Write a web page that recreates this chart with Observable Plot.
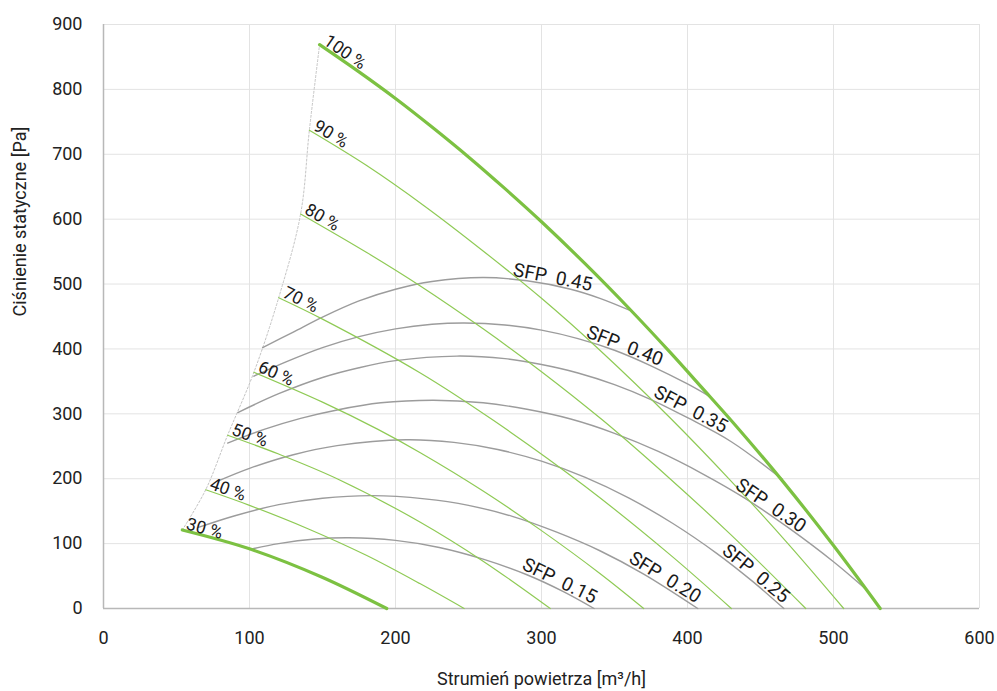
<!DOCTYPE html>
<html><head><meta charset="utf-8">
<script src="https://cdn.jsdelivr.net/npm/d3@7"></script>
<script src="https://cdn.jsdelivr.net/npm/@observablehq/plot@0.6"></script>
<style>
html,body{margin:0;padding:0;background:#fff;}
#chart svg text{white-space:pre;}
</style></head><body><div id="chart"></div>
<script>
// ---- data ----
const xTicks = [0, 100, 200, 300, 400, 500, 600];
const yTicks = [0, 100, 200, 300, 400, 500, 600, 700, 800, 900];

const speedNames = ["30 %", "40 %", "50 %", "60 %", "70 %", "80 %", "90 %", "100 %"];
const speed30 = [[54,121],[100,92],[149,49],[194,0]];
const speed40 = [[70,183],[100,159],[140,123],[180,82],[217,38],[247,0]];
const speed50 = [[85,267],[120,238],[160,200],[217,133],[260,73],[306,0]];
const speed60 = [[103,364],[150,318],[188,276],[217,240],[260,181],[300,120],[340,54],[370,0]];
const speed70 = [[120,479],[150,446],[217,363],[267,290],[330,188],[388,83],[430,0]];
const speed80 = [[135,608],[180,549],[217,497],[260,431],[300,365],[342,290],[388,200],[430,113],[481,0]];
const speed90 = [[141,737],[180,683],[220,620],[260,551],[300,478],[340,398],[388,294],[430,196],[470,97],[507,0]];
const speed100 = [[148,869],[175,827],[200,786],[225,742],[251,694],[275,647],[300,596],[330,531],[361,460],[388,395],[410,340],[431,287],[466,194],[500,97],[532,0]];

const sfpNames = ["SFP  0.15", "SFP  0.20", "SFP  0.25", "SFP  0.30", "SFP  0.35", "SFP  0.40", "SFP  0.45"];
const sfp15 = [[100,91],[120,100],[145,107],[168,109],[200,105],[230,94],[260,76],[290,52],[315,26],[336,0]];
const sfp20 = [[65,125],[90,143],[120,160],[150,170],[184,174],[220,169],[250,159],[280,142],[310,118],[340,89],[370,53],[407,0]];
const sfp25 = [[79,197],[100,216],[130,237],[160,251],[207,260],[240,256],[270,245],[300,227],[330,202],[360,170],[390,131],[420,85],[445,41],[466,0]];
const sfp30 = [[85,255],[110,276],[135,293],[160,306],[190,317],[226,321],[260,317],[290,307],[320,292],[350,270],[380,242],[410,208],[440,169],[470,123],[500,72],[521,32]];
const sfp35 = [[92,302],[120,331],[150,356],[175,371],[200,382],[242,389],[275,385],[300,376],[325,363],[350,345],[375,322],[400,294],[430,257],[465,199]];
const sfp40 = [[103,358],[125,380],[150,402],[175,419],[200,431],[225,438],[247,440],[275,437],[300,429],[325,416],[350,398],[375,374],[400,346],[415,327]];
const sfp45 = [[109,402],[130,426],[150,449],[175,474],[200,492],[225,504],[260,510],[290,505],[320,492],[340,478],[361,459]];
const sfpLabelX = [286, 359, 423, 432, 376, 330, 280];

// ---- layout ----
const W = 997, H = 691, mL = 103, mR = 18, mT = 24, mB = 83;
const kx = (W - mL - mR) / 600, ky = (H - mT - mB) / 900;
const FONT = "Roboto, 'Open Sans', sans-serif";

const speeds = [speed30, speed40, speed50, speed60, speed70, speed80, speed90, speed100];
const sfps = [sfp15, sfp20, sfp25, sfp30, sfp35, sfp40, sfp45];

const speedRows = speeds.flatMap((s, i) => s.map(([q, p]) => ({q, p, name: speedNames[i], thick: i === 0 || i === speeds.length - 1})));
const sfpRows = sfps.flatMap((s, i) => s.map(([q, p]) => ({q, p, name: sfpNames[i]})));
const boundary = speeds.map(s => ({q: s[0][0], p: s[0][1]}));

const angle = (dq, dp) => Math.atan2(-dp * ky, dq * kx) * 180 / Math.PI;
const interp = (s, q) => {
  for (let i = 1; i < s.length; i++) {
    if (q <= s[i][0]) {
      const [q0, p0] = s[i - 1], [q1, p1] = s[i];
      return p0 + (p1 - p0) * (q - q0) / (q1 - q0);
    }
  }
  return s[s.length - 1][1];
};
const speedLabels = speeds.map((s, i) => ({q: s[0][0], p: s[0][1], text: speedNames[i],
  rot: angle(s[1][0] - s[0][0], s[1][1] - s[0][1])}));
const sfpLabels = sfps.map((s, i) => {
  const q = sfpLabelX[i], q2 = Math.min(q + 50, s[s.length - 1][0]);
  const p = interp(s, q), p2 = interp(s, q2);
  return {q, p, text: sfpNames[i], rot: angle(q2 - q, p2 - p)};
});

const chart = Plot.plot({
  width: W, height: H,
  marginLeft: mL, marginRight: mR, marginTop: mT, marginBottom: mB,
  style: {fontFamily: FONT, fontSize: "18px", color: "#222", background: "#fff"},
  x: {domain: [0, 600], ticks: xTicks, tickSize: 0, tickPadding: 23, label: null},
  y: {domain: [0, 900], ticks: yTicks, tickSize: 0, tickPadding: 21, label: null},
  marks: [
    Plot.ruleX(xTicks.slice(1), {stroke: "#e3e3e3", strokeWidth: 1}),
    Plot.ruleY(yTicks.slice(1), {stroke: "#e3e3e3", strokeWidth: 1}),
    Plot.ruleX([0], {stroke: "#b8b8b8", strokeWidth: 1.5}),
    Plot.ruleY([0], {stroke: "#b8b8b8", strokeWidth: 1.5}),
    Plot.line(boundary, {x: "q", y: "p", curve: "catmull-rom", stroke: "#c4c4c4", strokeWidth: 1, strokeDasharray: "2,2"}),
    Plot.line(sfpRows, {x: "q", y: "p", z: "name", curve: "catmull-rom", stroke: "#9c9c9c", strokeWidth: 1.4}),
    Plot.line(speedRows.filter(d => !d.thick), {x: "q", y: "p", z: "name", curve: "catmull-rom", stroke: "#8fca55", strokeWidth: 1.2}),
    Plot.line(speedRows.filter(d => d.thick), {x: "q", y: "p", z: "name", curve: "catmull-rom", stroke: "#7cc142", strokeWidth: 3.2}),
    Plot.text(speedLabels, {x: "q", y: "p", text: "text", rotate: "rot", textAnchor: "start", lineAnchor: "bottom", dx: 3, dy: -1, fontSize: 17.5, fill: "#1a1a1a"}),
    Plot.text(sfpLabels, {x: "q", y: "p", text: "text", rotate: "rot", textAnchor: "start", lineAnchor: "bottom", dy: -4, fontSize: 19, fill: "#1a1a1a"}),
    Plot.text(["Strumień powietrza [m³/h]"], {frameAnchor: "bottom", text: d => d, lineAnchor: "bottom", dy: 76, fontSize: 18, fill: "#222"}),
    Plot.text(["Ciśnienie statyczne [Pa]"], {frameAnchor: "left", text: d => d, rotate: -90, lineAnchor: "middle", dx: -83, fontSize: 18, fill: "#222"})
  ]
});
document.getElementById("chart").appendChild(chart);
</script>
</body></html>
